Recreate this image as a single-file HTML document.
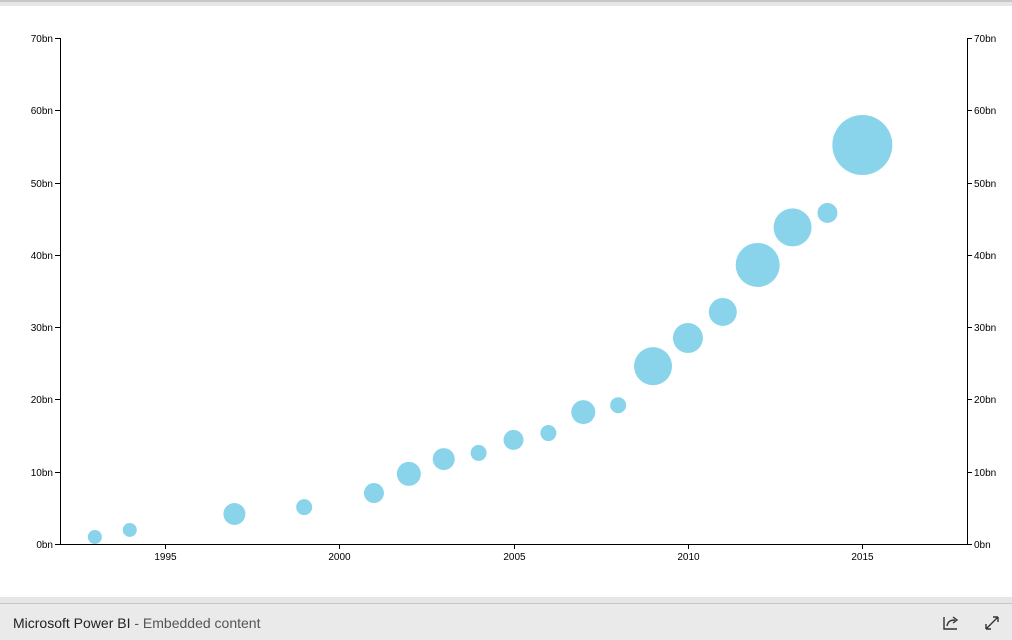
<!DOCTYPE html>
<html><head><meta charset="utf-8"><style>
html,body{margin:0;padding:0;width:1012px;height:640px;overflow:hidden;background:#fff;font-family:"Liberation Sans",sans-serif;}
#topbar{position:absolute;left:0;top:0;width:1012px;height:6px;background:#e6e6e6;border-top:2px solid #c8c8c8;box-sizing:border-box;}
#footer{position:absolute;left:0;top:597px;width:1012px;height:43px;background:#eaeaea;border-top:6px solid #e6e6e6;box-sizing:border-box;}
#footer .line{position:absolute;left:0;top:0;width:100%;height:1px;background:#c8c8c8;}
#footer .title{position:absolute;left:13px;top:12px;font-size:14px;color:#222;}
#footer .title span{color:#555;}
</style></head><body>
<div id="topbar"></div>
<svg id="chart" width="1012" height="597" style="position:absolute;left:0;top:0"></svg>
<div id="footer">
<div class="line"></div>
<div class="title">Microsoft Power BI <span>- Embedded content</span></div>
<svg style="position:absolute;left:940px;top:11px" width="22" height="18">
<path d="M4 3 V15 H17" fill="none" stroke="#333" stroke-width="1.4"/>
<path d="M7 12 C8 7 11 6 15 6 M13 3 L17 6 L13 9" fill="none" stroke="#333" stroke-width="1.4"/></svg>
<svg style="position:absolute;left:983px;top:11px" width="18" height="18">
<path d="M3 15 L15 3 M3 15 V10 M3 15 H8 M15 3 H10 M15 3 V8" fill="none" stroke="#333" stroke-width="1.4"/></svg>
</div>
<script>
const years=[1993,1994,1997,1999,2001,2002,2003,2004,2005,2006,2007,2008,2009,2010,2011,2012,2013,2014,2015];
const values=[0.97,1.94,4.15,5.1,7.05,9.7,11.75,12.6,14.4,15.35,18.25,19.2,24.6,28.5,32.1,38.6,43.8,45.8,55.2];
const sizes=[49,49,121,64,100,144,121,64,100,64,144,64,361,225,196,484,361,100,900];
const yTicks=[0,10,20,30,40,50,60,70];
const xTicks=[1995,2000,2005,2010,2015];
const NS='http://www.w3.org/2000/svg';
const svg=document.getElementById('chart');
const x0=60,x1=967,yb=544,yt=38,xmin=1992,xmax=2018,ymax=70;
const X=v=>x0+(v-xmin)/(xmax-xmin)*(x1-x0);
const Y=v=>yb-v/ymax*(yb-yt);
const R=s=>Math.sqrt(s);
function el(t,a,p){const e=document.createElementNS(NS,t);for(const k in a)e.setAttribute(k,a[k]);(p||svg).appendChild(e);return e;}
let ax=el('line',{x1:x0+0.5,x2:x0+0.5,y1:yt,y2:yb,stroke:'#000'});


ax=el('line',{x1:x1+0.5,x2:x1+0.5,y1:yt,y2:yb,stroke:'#000'});


ax=el('line',{x1:x0,x2:x1+1,y1:yb+0.5,y2:yb+0.5,stroke:'#000'});


yTicks.forEach(v=>{
  const y=Math.round(Y(v))+0.5;
  el('line',{x1:x0-5,x2:x0,y1:y,y2:y,stroke:'#000'});
  el('line',{x1:x1,x2:x1+5,y1:y,y2:y,stroke:'#000'});
  let t=el('text',{x:x0-7,y:y+3.5,'text-anchor':'end','font-size':'10',fill:'#000'});t.textContent=v+'bn';
  
  
  t=el('text',{x:x1+7,y:y+3.5,'font-size':'10',fill:'#000'});t.textContent=v+'bn';
  
  
});
xTicks.forEach(v=>{
  const x=Math.round(X(v))+0.5;
  el('line',{x1:x,x2:x,y1:yb,y2:yb+5,stroke:'#000'});
  const t=el('text',{x:x,y:yb+16,'text-anchor':'middle','font-size':'10',fill:'#000'});t.textContent=v;
  
  
});
years.forEach((yr,i)=>{
  const c=el('circle',{cx:X(yr),cy:Y(values[i]),r:R(sizes[i]),fill:'#8ad4eb'});
  
  
});
</script>
</body></html>
